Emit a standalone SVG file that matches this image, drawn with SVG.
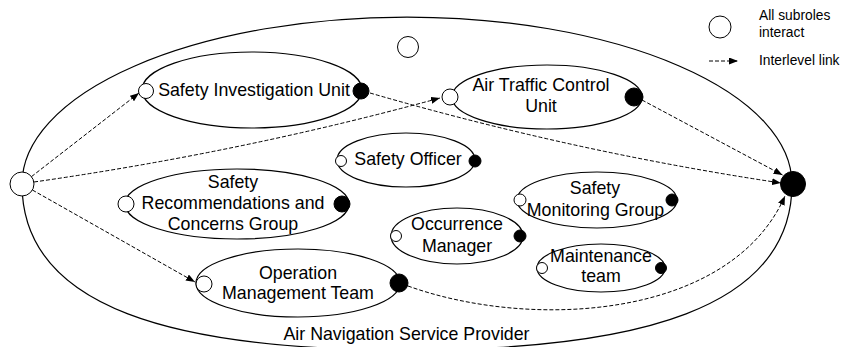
<svg xmlns="http://www.w3.org/2000/svg" width="844" height="347" viewBox="0 0 844 347">
<defs>
<marker id="arr" markerUnits="userSpaceOnUse" markerWidth="9" markerHeight="7" refX="9" refY="3.5" orient="auto">
<path d="M0,0 L9,3.5 L0,7 Z" fill="#000"/>
</marker>
</defs>
<style>
.shape{fill:none;stroke:#000;stroke-width:1.2}
.wc{fill:#fff;stroke:#000;stroke-width:1}
.bc{fill:#000;stroke:#000;stroke-width:1}
.lbl{font-family:"Liberation Sans",Arial,sans-serif;font-size:17.8px;fill:#000;text-anchor:middle}
.leg{font-family:"Liberation Sans",Arial,sans-serif;font-size:13.8px;fill:#000}
.link{fill:none;stroke:#000;stroke-width:1;stroke-dasharray:4,2;marker-end:url(#arr)}
</style>
<rect x="0" y="0" width="844" height="347" fill="#fff"/>

<g id="anp">
<path class="shape" d="M22,184 A385,167 0 0 1 792,184 C792,309 638,350 407,350 C176,350 22,309 22,184 Z"/>
<text class="lbl" x="406.5" y="340">Air Navigation Service Provider</text>
<circle class="wc" cx="408" cy="47" r="10.5"/>
<circle class="wc" cx="22" cy="184" r="12"/>
<circle class="bc" cx="793" cy="184" r="12.5"/>
</g>

<g id="connectors">
<path class="link" d="M31.5,176.6 L139,93"/>
<path class="link" d="M34,182 Q243,152 440,98"/>
<path class="link" d="M32.4,190 L195,282"/>
<path class="link" d="M370,93 Q574,152 781,183"/>
<path class="link" d="M642,100 L782.5,175"/>
<path class="link" d="M408,286 C530,330 730,320 785,196"/>
</g>

<g id="siu">
<ellipse class="shape" cx="252" cy="90" rx="110" ry="38"/>
<circle class="wc" cx="146" cy="91" r="7.5"/>
<circle class="bc" cx="361" cy="91" r="8"/>
<text class="lbl" x="254" y="96">Safety Investigation Unit</text>
</g>

<g id="atc">
<ellipse class="shape" cx="547" cy="97" rx="95" ry="32"/>
<circle class="wc" cx="450" cy="97" r="8"/>
<circle class="bc" cx="634" cy="97" r="9"/>
<text class="lbl" x="541" y="91">Air Traffic Control</text>
<text class="lbl" x="541" y="112">Unit</text>
</g>

<g id="so">
<ellipse class="shape" cx="406" cy="160" rx="69" ry="27"/>
<circle class="wc" cx="341" cy="161" r="5.5"/>
<circle class="bc" cx="475" cy="161" r="6"/>
<text class="lbl" x="408" y="165">Safety Officer</text>
</g>

<g id="srcg">
<ellipse class="shape" cx="237" cy="204" rx="112" ry="35"/>
<circle class="wc" cx="126" cy="204" r="8"/>
<circle class="bc" cx="342" cy="204" r="8"/>
<text class="lbl" x="233" y="188">Safety</text>
<text class="lbl" x="233" y="209">Recommendations and</text>
<text class="lbl" x="233" y="230">Concerns Group</text>
</g>

<g id="smg">
<ellipse class="shape" cx="597" cy="200" rx="80" ry="28"/>
<circle class="wc" cx="520" cy="200" r="6"/>
<circle class="bc" cx="672" cy="200" r="6"/>
<text class="lbl" x="595" y="194">Safety</text>
<text class="lbl" x="595.5" y="216">Monitoring Group</text>
</g>

<g id="om">
<ellipse class="shape" cx="457" cy="236" rx="66" ry="28"/>
<circle class="wc" cx="396" cy="236" r="5.5"/>
<circle class="bc" cx="520" cy="236" r="6"/>
<text class="lbl" x="457" y="230">Occurrence</text>
<text class="lbl" x="457" y="252">Manager</text>
</g>

<g id="mt">
<ellipse class="shape" cx="601" cy="268" rx="64" ry="24"/>
<circle class="wc" cx="542" cy="268" r="5.5"/>
<circle class="bc" cx="661" cy="268" r="5.5"/>
<text class="lbl" x="601" y="262">Maintenance</text>
<text class="lbl" x="601" y="282">team</text>
</g>

<g id="omt">
<ellipse class="shape" cx="298" cy="283" rx="102" ry="34"/>
<circle class="wc" cx="204" cy="284" r="8"/>
<circle class="bc" cx="399" cy="283" r="9"/>
<text class="lbl" x="298" y="279">Operation</text>
<text class="lbl" x="298" y="299">Management Team</text>
</g>

<g id="legend">
<circle class="wc" cx="720" cy="27" r="11"/>
<text class="leg" x="759" y="20">All subroles</text>
<text class="leg" x="759" y="37">interact</text>
<path class="link" d="M709,61 L738,61"/>
<text class="leg" x="759" y="65">Interlevel link</text>
</g>
</svg>
